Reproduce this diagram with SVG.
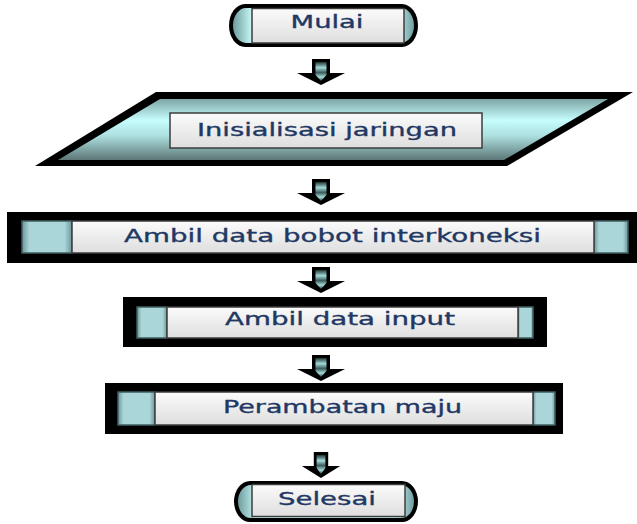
<svg xmlns="http://www.w3.org/2000/svg" width="637" height="524" viewBox="0 0 637 524">
  <style>
    .lbl { font-family: "DejaVu Sans", Verdana, sans-serif; font-size: 18px; fill: #1f3864; stroke: #1f3864; stroke-width: 0.35; }
    .box { fill: url(#boxFill); stroke: #3c3c3c; stroke-width: 1.5; }
    .edge { fill: #000; }
    .tab { fill: url(#tabFill); stroke: #3f5f60; stroke-width: 1.5; }
  </style>
  <defs>
    <linearGradient id="boxFill" x1="0" y1="0" x2="0" y2="1">
      <stop offset="0" stop-color="#fbfbfb"/>
      <stop offset="1" stop-color="#dedede"/>
    </linearGradient>
    <linearGradient id="tabFill" x1="0" y1="0" x2="1" y2="0">
      <stop offset="0" stop-color="#6e9698"/>
      <stop offset="0.15" stop-color="#aad6da"/>
      <stop offset="0.85" stop-color="#aad6da"/>
      <stop offset="1" stop-color="#6e9698"/>
    </linearGradient>
    <linearGradient id="paraFill" x1="0" y1="0" x2="0" y2="1">
      <stop offset="0" stop-color="#7ea6a6"/>
      <stop offset="0.35" stop-color="#c6fdfd"/>
      <stop offset="0.6" stop-color="#aee0e0"/>
      <stop offset="1" stop-color="#5d7777"/>
    </linearGradient>
    <linearGradient id="capFill" x1="0" y1="0" x2="1" y2="0">
      <stop offset="0" stop-color="#6f9c9c"/>
      <stop offset="0.1" stop-color="#c4f4f4"/>
      <stop offset="0.9" stop-color="#c4f4f4"/>
      <stop offset="1" stop-color="#6f9c9c"/>
    </linearGradient>
    <linearGradient id="arrowFill" x1="0" y1="0" x2="0" y2="1">
      <stop offset="0" stop-color="#1e3535"/>
      <stop offset="0.3" stop-color="#a5dada"/>
      <stop offset="0.55" stop-color="#3b5d5d"/>
      <stop offset="0.8" stop-color="#a5dada"/>
      <stop offset="1" stop-color="#2a4444"/>
    </linearGradient>
    <!-- block arrow, origin at top centre of the shaft -->
    <g id="blockArrow">
      <polygon points="-9,0 9,0 9,14 24,14 0,26 -24,14 -9,14" fill="#000"/>
      <polygon points="-5.5,3 5.5,3 5.5,16 0,22 -5.5,16" fill="url(#arrowFill)"/>
    </g>
  </defs>

  <rect width="637" height="524" fill="#fff"/>

  <g id="connectors">
    <use href="#blockArrow" transform="translate(321,59)"/>
    <use href="#blockArrow" transform="translate(321,179)"/>
    <use href="#blockArrow" transform="translate(321,267)"/>
    <use href="#blockArrow" transform="translate(321,355)"/>
    <use href="#blockArrow" transform="translate(321,452) scale(0.8,1)"/>
  </g>

  <g id="mulai">
    <rect x="229" y="4" width="189" height="43" rx="16" ry="21.5" class="edge"/>
    <rect x="233" y="8" width="181" height="35" rx="13" ry="17.5" fill="url(#capFill)"/>
    <rect x="252" y="8.5" width="152" height="34.5" class="box"/>
    <text x="327" y="28" class="lbl" text-anchor="middle" textLength="73" lengthAdjust="spacingAndGlyphs">Mulai</text>
  </g>

  <g id="inisialisasi">
    <polygon points="156,92 633,92 507,166 35,166" class="edge"/>
    <polygon points="160,99 608,99 504,160 58,160" fill="url(#paraFill)"/>
    <rect x="170" y="113" width="312" height="35" class="box"/>
    <text x="327" y="136" class="lbl" text-anchor="middle" textLength="260" lengthAdjust="spacingAndGlyphs">Inisialisasi jaringan</text>
  </g>

  <g id="ambil-bobot">
    <rect x="7" y="212" width="640" height="51" class="edge"/>
    <rect x="22" y="221" width="50" height="32" class="tab"/>
    <rect x="594" y="221" width="34" height="32" class="tab"/>
    <rect x="72" y="221" width="522" height="32" class="box"/>
    <text x="332.5" y="242" class="lbl" text-anchor="middle" textLength="417" lengthAdjust="spacingAndGlyphs">Ambil data bobot interkoneksi</text>
  </g>

  <g id="ambil-input">
    <rect x="123" y="297" width="424" height="50" class="edge"/>
    <rect x="137" y="307" width="30" height="31" class="tab"/>
    <rect x="518" y="307" width="15" height="31" class="tab"/>
    <rect x="167" y="307" width="351" height="31" class="box"/>
    <text x="340" y="325" class="lbl" text-anchor="middle" textLength="230" lengthAdjust="spacingAndGlyphs">Ambil data input</text>
  </g>

  <g id="perambatan">
    <rect x="105" y="383" width="458" height="51" class="edge"/>
    <rect x="118" y="392" width="37" height="33" class="tab"/>
    <rect x="533" y="392" width="22" height="33" class="tab"/>
    <rect x="155" y="392" width="378" height="33" class="box"/>
    <text x="342.5" y="413" class="lbl" text-anchor="middle" textLength="239" lengthAdjust="spacingAndGlyphs">Perambatan maju</text>
  </g>

  <g id="selesai">
    <rect x="234" y="481" width="184" height="41" rx="16" ry="20.5" class="edge"/>
    <rect x="238" y="485" width="176" height="33" rx="13" ry="16.5" fill="url(#capFill)"/>
    <rect x="252" y="484.5" width="153" height="32" class="box"/>
    <text x="327" y="505" class="lbl" text-anchor="middle" textLength="98" lengthAdjust="spacingAndGlyphs">Selesai</text>
  </g>
</svg>
